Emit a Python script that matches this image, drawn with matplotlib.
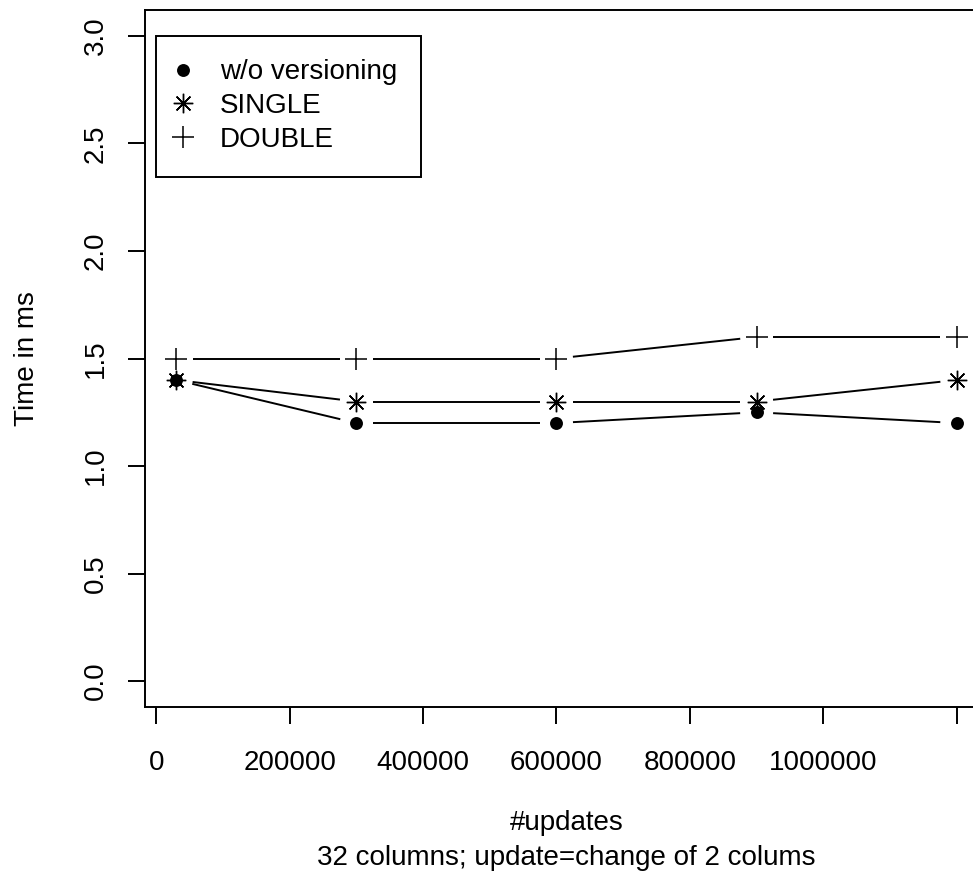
import numpy as np
import matplotlib.pyplot as plt
from matplotlib.lines import Line2D

plt.rcParams['font.family'] = ['Liberation Sans', 'DejaVu Sans']

# data
updates = [30000, 300000, 600000, 900000, 1200000]
no_versioning = [1.4, 1.2, 1.2, 1.25, 1.2]
single = [1.4, 1.3, 1.3, 1.3, 1.4]
double = [1.5, 1.5, 1.5, 1.6, 1.6]
labels = ['w/o versioning', 'SINGLE', 'DOUBLE']

fs = 20
fig = plt.figure(figsize=(9.73, 8.82), dpi=100)
# the plot box runs slightly past the right edge, like the original
ax = fig.add_axes([145 / 973, 175 / 882, 843 / 973, 697 / 882])

# R-style 4% padding around the data range
xr = max(updates) - min(updates)
ax.set_xlim(min(updates) - 0.04 * xr, max(updates) + 0.04 * xr)
ax.set_ylim(0 - 0.04 * 3, 3 + 0.04 * 3)

styles = [
    dict(marker='o', ms=9.3, mew=0),
    dict(marker=(8, 2, 0), ms=14, mew=1.0),
    dict(marker='+', ms=16, mew=1.1),
]


def gapped_line(xs, ys, gap=16.5):
    # type="b": segments stop short of each point
    pts = ax.transData.transform(np.column_stack([xs, ys]))
    inv = ax.transData.inverted()
    for p0, p1 in zip(pts[:-1], pts[1:]):
        d = p1 - p0
        n = np.hypot(*d)
        if n <= 2 * gap:
            continue
        u = d / n
        a, b = inv.transform([p0 + u * gap, p1 - u * gap])
        ax.plot([a[0], b[0]], [a[1], b[1]], color='black', lw=1.4,
                solid_capstyle='butt')


handles = []
for ys, st, lab in zip([no_versioning, single, double], styles, labels):
    gapped_line(updates, ys)
    ax.plot(updates, ys, ls='none', color='black', mfc='black', mec='black', **st)
    handles.append(Line2D([], [], ls='none', color='black', mfc='black',
                          mec='black', label=lab, **st))

for s in ax.spines.values():
    s.set_linewidth(1.4)

ax.set_xticks([0, 200000, 400000, 600000, 800000, 1000000, 1200000])
ax.set_xticklabels(['0', '200000', '400000', '600000', '800000', '1000000', ''])
ax.set_yticks([0.0, 0.5, 1.0, 1.5, 2.0, 2.5, 3.0])
ax.set_yticklabels(['0.0', '0.5', '1.0', '1.5', '2.0', '2.5', '3.0'])
ax.tick_params(axis='both', direction='out', length=12.2, width=1.4, labelsize=fs)
ax.tick_params(axis='x', pad=19)
ax.tick_params(axis='y', pad=14, labelrotation=90)
for t in ax.get_yticklabels():
    t.set_va('center')

ax.set_ylabel('Time in ms', fontsize=fs)
ax.yaxis.set_label_coords((40 - 145) / 843, 0.5)
ax.text(0.5, (707 - 823) / 697, '#updates', transform=ax.transAxes,
        ha='center', va='center', fontsize=fs)
ax.text(0.5, (707 - 858) / 697, '32 columns; update=change of 2 colums',
        transform=ax.transAxes, ha='center', va='center', fontsize=fs)

leg = ax.legend(handles=handles, loc='upper left',
                bbox_to_anchor=(0, 3), bbox_transform=ax.transData,
                frameon=True, fancybox=False, framealpha=1, edgecolor='black',
                fontsize=fs, borderpad=0.85, labelspacing=0.28,
                handlelength=0.2, handletextpad=1.25, borderaxespad=0)
leg.get_frame().set_linewidth(1.4)

fig.savefig('out.png', dpi=100)
